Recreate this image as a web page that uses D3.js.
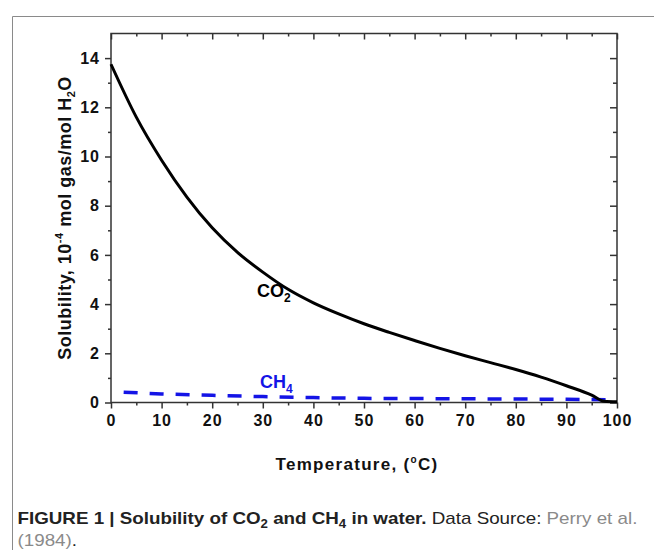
<!DOCTYPE html>
<html>
<head>
<meta charset="utf-8">
<script src="https://cdn.jsdelivr.net/npm/d3@7"></script>
<style>
  body { margin: 0; background: #fff; }
  svg { display: block; }
  .tick text { font-family: Arial, "Liberation Sans", sans-serif; font-weight: bold; }
</style>
</head>
<body>
<svg id="chart" width="654" height="550"></svg>
<script>
// data (solubility in 1e-4 mol gas / mol H2O)
const co2Temp = [0, 5, 10, 15, 20, 25, 30, 35, 40, 45, 50, 55, 60, 65, 70, 75, 80, 85, 90, 95, 97.5, 100];
const co2Sol = [13.75, 11.6, 9.85, 8.35, 7.1, 6.1, 5.3, 4.6, 4.05, 3.6, 3.2, 2.85, 2.52, 2.2, 1.9, 1.62, 1.34, 1.03, 0.68, 0.3, 0.05, 0.03];
const ch4Temp = [2.5, 10, 20, 30, 40, 50, 60, 70, 80, 90, 100];
const ch4Sol = [0.42, 0.35, 0.29, 0.24, 0.2, 0.17, 0.16, 0.15, 0.14, 0.13, 0.1];
const xMajor = [0, 10, 20, 30, 40, 50, 60, 70, 80, 90, 100];
const xMinor = [5, 15, 25, 35, 45, 55, 65, 75, 85, 95];
const yMajor = [0, 2, 4, 6, 8, 10, 12, 14];
const yMinor = [1, 3, 5, 7, 9, 11, 13];

const svg = d3.select("#chart");
const plotLeft = 111, plotRight = 617, plotTop = 33.5, plotBottom = 402.5;

const x = d3.scaleLinear().domain([0, 100]).range([plotLeft, plotRight]);
const y = d3.scaleLinear().domain([0, 15]).range([plotBottom, plotTop]);

// outer figure box
svg.append("path")
  .attr("d", "M12.5,560 V16.5 H660")
  .attr("fill", "none")
  .attr("stroke", "#8a8a8a")
  .attr("stroke-width", 1);

const axisLayer = svg.append("g").attr("id", "axis-layer");

function styleAxis(g) {
  g.select(".domain").remove();
  g.selectAll(".tick line").attr("stroke", "#333").attr("stroke-width", 1.5);
}

// bottom
axisLayer.append("g")
  .attr("transform", `translate(0,${plotBottom})`)
  .call(d3.axisBottom(x).tickValues(xMajor).tickSize(6).tickPadding(6))
  .call(styleAxis)
  .call((g) => g.selectAll("text").attr("font-size", 16).attr("fill", "#111").attr("letter-spacing", 1));
axisLayer.append("g")
  .attr("transform", `translate(0,${plotBottom})`)
  .call(d3.axisBottom(x).tickValues(xMinor).tickSize(3).tickFormat(""))
  .call(styleAxis);

// top (inward ticks)
axisLayer.append("g")
  .attr("transform", `translate(0,${plotTop})`)
  .call(d3.axisTop(x).tickValues(xMajor).tickSize(-6).tickFormat(""))
  .call(styleAxis);
axisLayer.append("g")
  .attr("transform", `translate(0,${plotTop})`)
  .call(d3.axisTop(x).tickValues(xMinor).tickSize(-3).tickFormat(""))
  .call(styleAxis);

// left
axisLayer.append("g")
  .attr("transform", `translate(${plotLeft},0)`)
  .call(d3.axisLeft(y).tickValues(yMajor).tickSize(6).tickPadding(5))
  .call(styleAxis)
  .call((g) => g.selectAll("text").attr("font-size", 16).attr("fill", "#111").attr("letter-spacing", 1));
axisLayer.append("g")
  .attr("transform", `translate(${plotLeft},0)`)
  .call(d3.axisLeft(y).tickValues(yMinor).tickSize(3).tickFormat(""))
  .call(styleAxis);

// right (inward ticks)
axisLayer.append("g")
  .attr("transform", `translate(${plotRight},0)`)
  .call(d3.axisRight(y).tickValues(yMajor).tickSize(-7).tickFormat(""))
  .call(styleAxis);
axisLayer.append("g")
  .attr("transform", `translate(${plotRight},0)`)
  .call(d3.axisRight(y).tickValues(yMinor).tickSize(-4).tickFormat(""))
  .call(styleAxis);

// plot frame
axisLayer.append("rect")
  .attr("x", plotLeft)
  .attr("y", plotTop)
  .attr("width", plotRight - plotLeft)
  .attr("height", plotBottom - plotTop)
  .attr("fill", "none")
  .attr("stroke", "#333")
  .attr("stroke-width", 1.5);

const lineLayer = svg.append("g").attr("id", "line-layer");

lineLayer.append("path")
  .datum(ch4Sol)
  .attr("fill", "none")
  .attr("stroke", "#1414e6")
  .attr("stroke-width", 3.5)
  .attr("stroke-dasharray", "14 12")
  .attr("d", d3.line().x((d, i) => x(ch4Temp[i])).y((d) => y(d)).curve(d3.curveMonotoneX));

lineLayer.append("path")
  .datum(co2Sol)
  .attr("fill", "none")
  .attr("stroke", "#000")
  .attr("stroke-width", 3)
  .attr("d", d3.line().x((d, i) => x(co2Temp[i])).y((d) => y(d)).curve(d3.curveMonotoneX));

const font = "Arial, 'Liberation Sans', sans-serif";

// series labels
const co2Label = svg.append("text")
  .attr("x", 257)
  .attr("y", 297)
  .attr("font-family", font)
  .attr("font-weight", "bold")
  .attr("font-size", 18)
  .attr("fill", "#000");
co2Label.append("tspan").text("CO");
co2Label.append("tspan").attr("font-size", 12).attr("dy", 5).text("2");

const ch4Label = svg.append("text")
  .attr("x", 260)
  .attr("y", 388)
  .attr("font-family", font)
  .attr("font-weight", "bold")
  .attr("font-size", 18)
  .attr("fill", "#1414e6");
ch4Label.append("tspan").text("CH");
ch4Label.append("tspan").attr("font-size", 12).attr("dy", 5).text("4");

// axis titles
const xTitle = svg.append("text")
  .attr("x", 357)
  .attr("y", 470)
  .attr("text-anchor", "middle")
  .attr("font-family", font)
  .attr("font-weight", "bold")
  .attr("font-size", 17)
  .attr("letter-spacing", 1.3)
  .attr("fill", "#111");
xTitle.append("tspan").text("Temperature, (");
xTitle.append("tspan").attr("font-size", 10).attr("dy", -7).text("o");
xTitle.append("tspan").attr("dy", 7).text("C)");

const yTitle = svg.append("text")
  .attr("transform", `translate(71,${(plotTop + plotBottom) / 2}) rotate(-90)`)
  .attr("text-anchor", "middle")
  .attr("font-family", font)
  .attr("font-weight", "bold")
  .attr("font-size", 18)
  .attr("letter-spacing", 0.5)
  .attr("fill", "#111");
yTitle.append("tspan").text("Solubility, 10");
yTitle.append("tspan").attr("font-size", 11).attr("dy", -8).text("-4");
yTitle.append("tspan").attr("dy", 8).text(" mol gas/mol H");
yTitle.append("tspan").attr("font-size", 11).attr("dy", 4).text("2");
yTitle.append("tspan").attr("dy", -4).text("O");

// caption
const capFont = "'Liberation Sans Narrow', 'Liberation Sans', Arial, sans-serif";
const cap = svg.append("g").attr("id", "caption");
const line1 = cap.append("text")
  .attr("x", 0)
  .attr("y", 0)
  .attr("font-family", capFont)
  .attr("font-size", 17)
  .attr("fill", "#222");
line1.append("tspan").attr("font-weight", "bold").text("FIGURE 1 | Solubility of CO");
line1.append("tspan").attr("font-weight", "bold").attr("font-size", 12).attr("dy", 4).text("2");
line1.append("tspan").attr("font-weight", "bold").attr("dy", -4).text(" and CH");
line1.append("tspan").attr("font-weight", "bold").attr("font-size", 12).attr("dy", 4).text("4");
line1.append("tspan").attr("font-weight", "bold").attr("dy", -4).text(" in water.");
line1.append("tspan").text(" Data Source: ");
line1.append("tspan").attr("fill", "#8a8a8a").text("Perry et al.");

const line2 = cap.append("text")
  .attr("x", 0)
  .attr("y", 22)
  .attr("font-family", capFont)
  .attr("font-size", 17)
  .attr("fill", "#222");
line2.append("tspan").attr("fill", "#8a8a8a").text("(1984)");
line2.append("tspan").text(".");

// fit caption line to the width used in the figure
const w1 = line1.node().getComputedTextLength();
const sx = 620 / w1;
cap.attr("transform", `translate(17.5,524) scale(${sx},1)`);
</script>
</body>
</html>
